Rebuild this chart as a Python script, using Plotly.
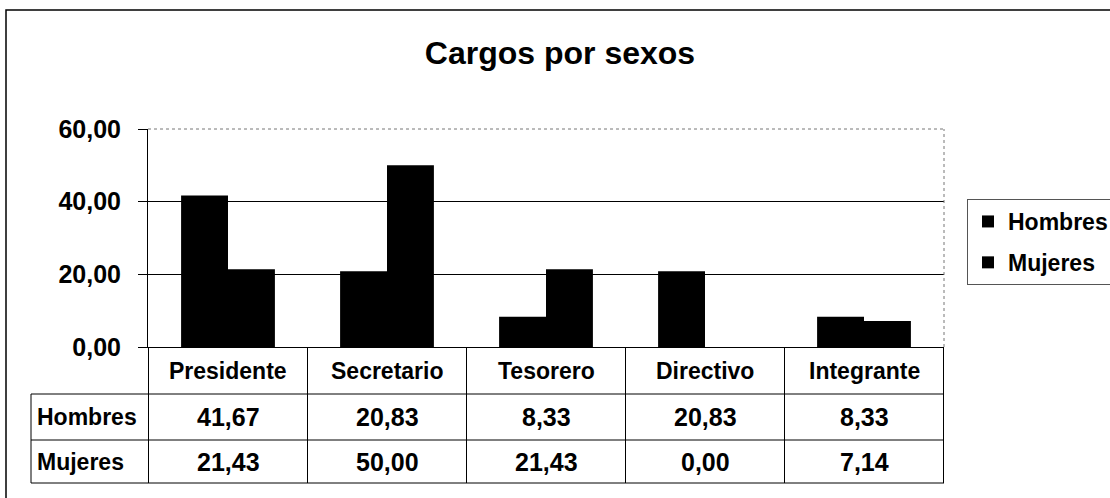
import plotly.graph_objects as go

# data
cargos = ["Presidente", "Secretario", "Tesorero", "Directivo", "Integrante"]
hombres = [41.67, 20.83, 8.33, 20.83, 8.33]
mujeres = [21.43, 50.00, 21.43, 0.00, 7.14]
series = [("Hombres", hombres), ("Mujeres", mujeres)]
y_ticks = [0, 20, 40, 60]

FONT = "Liberation Sans, Arial, sans-serif"
W, H = 1110, 498
L, R, T, B = 148, 166, 129, 151
PH = H - T - B  # plot height in px
WORD = 23   # size for words
NUM = 25    # size for numbers


def py(px):
    """pixel row -> paper y"""
    return (H - B - px) / PH


def px_x(px):
    """pixel column -> paper x"""
    return (px - L) / (W - L - R)


def fmt(v):
    return f"{v:.2f}".replace(".", ",")


fig = go.Figure()
for name, vals in series:
    fig.add_trace(go.Bar(x=cargos, y=vals, name=name, marker_color="black",
                         marker_line_width=0, legendgroup=name))

fig.update_layout(
    width=W, height=H,
    margin=dict(l=L, r=R, t=T, b=B, autoexpand=False),
    paper_bgcolor="white", plot_bgcolor="white",
    font=dict(family=FONT, size=WORD, color="black", weight="bold"),
    separators=",.",
    barmode="group", bargap=0.41, bargroupgap=0,
    title=dict(text="Cargos por sexos", x=560 / W, xref="container", xanchor="center",
               y=1 - 53 / H, yanchor="middle", yref="container",
               font=dict(size=32, family=FONT, weight="bold")),
    legend=dict(x=967 / W, y=1 - 199 / H, xref="container", yref="container",
                xanchor="left", yanchor="top",
                bordercolor="#555", borderwidth=1, font=dict(size=WORD),
                tracegroupgap=8),
    showlegend=True,
)

fig.update_yaxes(range=[0, 60], tickvals=y_ticks, tickformat=".2f",
                 showline=True, linecolor="black", linewidth=1,
                 ticks="outside", ticklen=9, tickcolor="black",
                 ticklabelstandoff=12,
                 showgrid=True, gridcolor="black", gridwidth=1,
                 zeroline=False, tickfont=dict(size=NUM))
fig.update_xaxes(showticklabels=False, showline=True, linecolor="black",
                 linewidth=1, ticks="", showgrid=False)

shapes = []
# plot border (top and right dotted)
shapes.append(dict(type="line", xref="paper", yref="paper", x0=0, x1=1, y0=1, y1=1,
                   line=dict(color="#777", width=1, dash="dot")))
shapes.append(dict(type="line", xref="paper", yref="paper", x0=1, x1=1, y0=0, y1=1,
                   line=dict(color="#777", width=1, dash="dot")))

# data table grid
n = len(cargos)
y_head = py(394)
y_mid = py(440)
y_bot = py(483)
for k in range(n + 1):
    xk = k - 0.5
    shapes.append(dict(type="line", xref="x", yref="paper", x0=xk, x1=xk, y0=0, y1=y_bot,
                       line=dict(color="black", width=1)))
for yy in (y_head, y_mid, y_bot):
    shapes.append(dict(type="line", xref="paper", yref="paper", x0=px_x(31), x1=1,
                       y0=yy, y1=yy, line=dict(color="black", width=1)))
shapes.append(dict(type="line", xref="paper", yref="paper", x0=px_x(31), x1=px_x(31),
                   y0=y_head, y1=y_bot, line=dict(color="black", width=1)))

# outer chart border
shapes.append(dict(type="rect", xref="paper", yref="paper", x0=px_x(6), x1=px_x(1300),
                   y0=py(700), y1=py(10), line=dict(color="black", width=1.5)))

annotations = []
for i, c in enumerate(cargos):
    annotations.append(dict(x=i, y=(0 + y_head) / 2, xref="x", yref="paper", text=c,
                            xanchor="center", yanchor="middle",
                            showarrow=False, font=dict(size=WORD)))
rows = [(y_head + y_mid) / 2, (y_mid + y_bot) / 2]
for (name, vals), yy in zip(series, rows):
    annotations.append(dict(x=px_x(35), y=yy, xref="paper", yref="paper", text=name,
                            xanchor="left", yanchor="middle",
                            showarrow=False, font=dict(size=WORD)))
    for i, v in enumerate(vals):
        annotations.append(dict(x=i, y=yy, xref="x", yref="paper", text=fmt(v),
                                xanchor="center", yanchor="middle",
                                showarrow=False, font=dict(size=NUM)))

fig.update_layout(shapes=shapes, annotations=annotations)
fig.write_html("out.html", config={"displayModeBar": False},
               post_script="document.body.style.margin='0';document.body.style.overflow='hidden';")
